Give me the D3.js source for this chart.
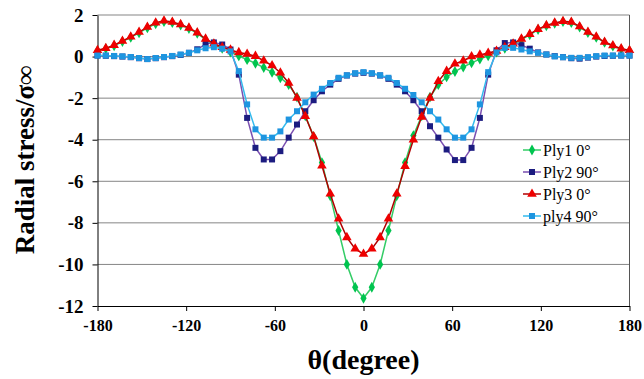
<!DOCTYPE html>
<html><head><meta charset="utf-8">
<script src="https://cdn.jsdelivr.net/npm/d3@7"></script>
<style>body{margin:0;background:#fff}svg{display:block}</style>
</head><body>
<svg id="c" width="644" height="379"></svg>
<script>
const theta = [-180,-174.375,-168.75,-163.125,-157.5,-151.875,-146.25,-140.625,-135,-129.375,-123.75,-118.125,-112.5,-106.875,-101.25,-95.625,-90,-84.375,-78.75,-73.125,-67.5,-61.875,-56.25,-50.625,-45,-39.375,-33.75,-28.125,-22.5,-16.875,-11.25,-5.625,0,5.625,11.25,16.875,22.5,28.125,33.75,39.375,45,50.625,56.25,61.875,67.5,73.125,78.75,84.375,90,95.625,101.25,106.875,112.5,118.125,123.75,129.375,135,140.625,146.25,151.875,157.5,163.125,168.75,174.375,180];
const ply1 = [0.28,0.38,0.52,0.72,0.92,1.14,1.38,1.58,1.68,1.63,1.52,1.35,1.12,0.82,0.58,0.4,0.22,0.03,-0.15,-0.32,-0.53,-0.76,-1.02,-1.35,-1.95,-2.85,-3.85,-5.1,-6.7,-8.37,-10.0,-11.1,-11.63,-11.1,-10.0,-8.37,-6.7,-5.1,-3.8,-2.85,-1.95,-1.35,-0.98,-0.72,-0.5,-0.3,-0.12,0.04,0.22,0.4,0.58,0.82,1.05,1.3,1.48,1.6,1.68,1.63,1.42,1.15,0.92,0.68,0.5,0.36,0.28];
const ply2 = [0.05,0.04,0.02,0.0,-0.03,-0.08,-0.12,-0.08,-0.03,0.02,0.08,0.18,0.35,0.6,0.68,0.58,0.34,-0.87,-2.95,-4.39,-4.95,-4.95,-4.55,-3.9,-3.27,-2.63,-2.1,-1.67,-1.35,-1.07,-0.91,-0.82,-0.78,-0.82,-0.91,-1.07,-1.35,-1.67,-2.1,-2.63,-3.35,-3.9,-4.47,-4.98,-4.98,-4.39,-2.95,-0.87,0.3,0.65,0.68,0.55,0.38,0.2,0.1,0.02,-0.03,-0.08,-0.1,-0.05,0.0,0.03,0.04,0.05,0.05];
const ply3 = [0.3,0.4,0.55,0.75,0.95,1.18,1.42,1.63,1.72,1.66,1.55,1.38,1.15,0.85,0.62,0.45,0.32,0.2,0.12,0.02,-0.2,-0.43,-0.78,-1.27,-1.99,-2.87,-3.85,-5.25,-6.6,-7.8,-8.7,-9.25,-9.5,-9.25,-8.7,-7.8,-6.6,-5.27,-4.0,-2.9,-1.99,-1.19,-0.7,-0.35,-0.2,0.0,0.08,0.17,0.27,0.45,0.62,0.85,1.08,1.32,1.5,1.62,1.7,1.66,1.45,1.18,0.95,0.7,0.53,0.38,0.3];
const ply4 = [0.05,0.05,0.03,0.01,-0.02,-0.07,-0.12,-0.07,-0.02,0.03,0.1,0.18,0.3,0.4,0.45,0.38,0.25,-0.7,-2.3,-3.5,-3.9,-3.9,-3.6,-3.03,-2.63,-2.2,-1.83,-1.55,-1.27,-1.02,-0.9,-0.8,-0.75,-0.8,-0.9,-1.02,-1.27,-1.55,-1.85,-2.2,-2.63,-3.03,-3.5,-3.9,-3.9,-3.5,-2.3,-0.75,0.2,0.42,0.42,0.34,0.25,0.18,0.1,0.01,-0.03,-0.06,-0.06,-0.03,0.02,0.05,0.05,0.05,0.05];
const seriesNames = ["Ply1 0°","Ply2 90°","Ply3 0°","ply4 90°"];
const xTicks = [-180,-120,-60,0,60,120,180];
const yTicks = [2,0,-2,-4,-6,-8,-10,-12];

const styles = [
  {line:"#33cc66", fill:"#00c44f", sym:d3.symbolDiamond, size:34},
  {line:"#7a4fb0", fill:"#1c1c80", sym:d3.symbolSquare, size:36},
  {line:"#b00000", fill:"#ee0000", sym:d3.symbolTriangle, size:40},
  {line:"#33bbee", fill:"#1e95e0", sym:d3.symbolSquare, size:36}
];
const data = [ply1,ply2,ply3,ply4];

const svg = d3.select("#c");
const x = d3.scaleLinear().domain([-180,180]).range([97.5,629.5]);
const y = d3.scaleLinear().domain([-12,2]).range([306,15]);
const serif = "'Liberation Serif','Times New Roman',serif";

// gridlines
svg.append("g").selectAll("line").data(yTicks.filter(v=>v>-12)).join("line")
  .attr("x1",x(-180)).attr("x2",x(180)).attr("y1",d=>y(d)).attr("y2",d=>y(d))
  .attr("stroke","#858585").attr("stroke-width",1);
// right border
svg.append("line").attr("x1",x(180)).attr("x2",x(180)).attr("y1",y(2)).attr("y2",y(-12))
  .attr("stroke","#555").attr("stroke-width",1);

// axes
const gx = svg.append("g").attr("transform",`translate(0,${y(-12)})`)
  .call(d3.axisBottom(x).tickValues(xTicks).tickSize(5).tickSizeOuter(0).tickFormat(d=>String(d)));
gx.select(".domain").attr("stroke","#000");
gx.selectAll("text").attr("font-family",serif).attr("font-weight","bold").attr("font-size","16px").attr("dy","1.05em").attr("fill","#000");
const gy = svg.append("g").attr("transform",`translate(${x(-180)},0)`)
  .call(d3.axisLeft(y).tickValues(yTicks).tickSize(5).tickSizeOuter(0).tickFormat(d=>String(d)));
gy.select(".domain").attr("stroke","#000");
gy.selectAll("text").attr("font-family",serif).attr("font-weight","bold").attr("font-size","19px").attr("x",-14).attr("fill","#000");

// series
data.forEach((vals,i)=>{
  const st = styles[i];
  const pts = theta.map((t,j)=>[t,vals[j]]);
  svg.append("path").datum(pts)
    .attr("d",d3.line().x(d=>x(d[0])).y(d=>y(d[1])))
    .attr("fill","none").attr("stroke",st.line).attr("stroke-width",1.5);
  svg.append("g").selectAll("path").data(pts).join("path")
    .attr("transform",d=>`translate(${x(d[0])},${y(d[1])})`)
    .attr("d",d3.symbol().type(st.sym).size(st.size))
    .attr("fill",st.fill);
});

// legend
const lg = svg.append("g");
seriesNames.forEach((n,i)=>{
  const cy = 150 + i*22;
  const st = styles[i];
  lg.append("line").attr("x1",523).attr("x2",541).attr("y1",cy).attr("y2",cy).attr("stroke",st.line).attr("stroke-width",1.5);
  lg.append("path").attr("transform",`translate(532,${cy})`).attr("d",d3.symbol().type(st.sym).size(st.size)).attr("fill",st.fill);
  lg.append("text").attr("x",543).attr("y",cy).attr("dy","0.35em").attr("font-family",serif).attr("font-size","16px").attr("fill","#000").text(n);
});

// axis titles
svg.append("text").attr("x",x(0)).attr("y",369).attr("text-anchor","middle")
  .attr("font-family",serif).attr("font-weight","bold").attr("font-size","28px").text("θ(degree)");
svg.append("text").attr("transform","translate(34,160) rotate(-90)").attr("text-anchor","middle")
  .attr("font-family",serif).attr("font-weight","bold").attr("font-size","27px").text("Radial stress/σ∞");
</script>
</body></html>
